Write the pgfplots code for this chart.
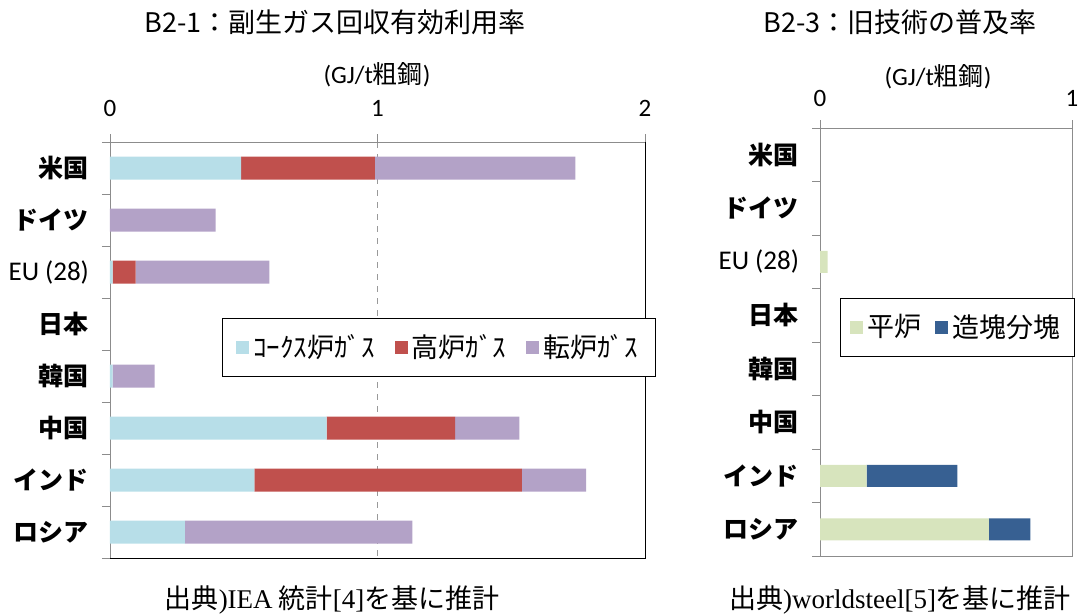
\documentclass[border=0pt]{standalone}
\usepackage{pgfplots}
\pgfplotsset{compat=1.18}
\usepackage{pgfplotstable}
\usepackage{fontspec}
\setmainfont{Noto Sans CJK JP}
\newfontfamily\lat{Carlito}
\newfontfamily\ser{Liberation Serif}

\definecolor{coke}{HTML}{B7DEE8}
\definecolor{bfgas}{HTML}{C0504D}
\definecolor{bofgas}{HTML}{B3A2C7}
\definecolor{ohf}{HTML}{D7E4BD}
\definecolor{ingot}{HTML}{376092}
\definecolor{frame}{HTML}{8C8C8C}

\newcommand{\fs}{\fontsize{12.5}{15}\selectfont}
\newcommand{\fl}{\fontsize{13.5}{16}\selectfont}

% GJ/t crude steel, rows top to bottom
\pgfplotstableread{
y coke bf bof
0 0.49 0.50 0.75
1 0    0    0.395
2 0.01 0.086 0.50
3 0    0    0
4 0.01 0    0.157
5 0.81 0.48 0.24
6 0.54 1.00 0.24
7 0.28 0    0.85
}\gasdata

\pgfplotstableread{
y ohf ingot
0 0    0
1 0    0
2 0.03 0
3 0    0
4 0    0
5 0    0
6 0.185 0.36
7 0.67 0.165
}\olddata

\pgfplotsset{
  catax/.style={
    scale only axis,
    xbar stacked,
    y dir=reverse,
    ymin=-0.5, ymax=7.5,
    ytick={-0.5,0.5,...,7.5},
    yticklabels={{},{},{},{},{},{},{},{},{}},
    extra y ticks={0,...,7},
    extra y tick labels={米国,ドイツ,{\mdseries\lat\fl EU (28)},日本,韓国,中国,インド,ロシア},
    extra y tick style={major tick length=0pt,
      yticklabel style={font=\fs\bfseries, xshift=-7pt}},
    ytick pos=left,
    xtick pos=right, xticklabel pos=right,
    tick align=outside, major tick length=4pt,
    tick style={draw=frame, thin},
    axis line style={draw=frame},
    xticklabel style={font=\lat\fs},
    /pgf/number format/assume math mode=true,
    legend cell align=left,
    legend image code/.code={\fill[#1] (0pt,-3.2pt) rectangle (6.5pt,3.3pt);},
  }
}

\begin{document}
\begin{tikzpicture}
\path[use as bounding box] (0,0) rectangle (540pt,307.5pt);

\begin{axis}[catax,
  at={(55pt,28.5pt)}, anchor=south west,
  width=267.5pt, height=208pt,
  bar width=11.5pt,
  xmin=0, xmax=2, xtick={0,1,2},
  xticklabel style={yshift=5pt},
  xmajorgrids, major grid style={dashed, draw=gray!80},
  legend style={at={(0.209,0.577)}, anchor=north west, draw=black, fill=white,
    legend columns=3, font=\fl, inner xsep=7pt, inner ysep=6pt,
    /tikz/every even column/.append style={column sep=8pt}},
  after end axis/.code={
    \draw[black] (rel axis cs:1,1) -- (rel axis cs:1,0) -- (rel axis cs:0,0);
  },
]
\addplot[fill=coke, draw=none] table[x=coke, y=y] {\gasdata};
\addlegendentry{ｺｰｸｽ炉ｶﾞｽ}
\addplot[fill=bfgas, draw=none] table[x=bf, y=y] {\gasdata};
\addlegendentry{高炉ｶﾞｽ}
\addplot[fill=bofgas, draw=none] table[x=bof, y=y] {\gasdata};
\addlegendentry{転炉ｶﾞｽ}
\end{axis}

\begin{axis}[catax,
  at={(410pt,29.5pt)}, anchor=south west,
  width=126pt, height=214pt,
  bar width=11pt,
  xmin=0, xmax=1, xtick={0,1},
  xticklabel style={yshift=3pt},
  legend style={at={(0.079,0.603)}, anchor=north west, draw=black, fill=white,
    legend columns=2, font=\fl, inner xsep=5pt, inner ysep=6pt,
    /tikz/every even column/.append style={column sep=5pt}},
]
\addplot[fill=ohf, draw=none] table[x=ohf, y=y] {\olddata};
\addlegendentry{平炉}
\addplot[fill=ingot, draw=none] table[x=ingot, y=y] {\olddata};
\addlegendentry{造塊分塊}
\end{axis}

\node[font=\fl] at (167.5pt,296.5pt) {B2-1：副生ガス回収有効利用率};
\node[font=\fl] at (450pt,296.5pt) {B2-3：旧技術の普及率};
\node[font=\fs] at (188.5pt,270pt) {{\lat (GJ/t}粗鋼{\lat )}};
\node[font=\fs] at (469pt,269pt) {{\lat (GJ/t}粗鋼{\lat )}};
\node[font=\fl] at (166pt,7.5pt) {出典{\ser )IEA} 統計{\ser [4]}を基に推計};
\node[font=\fl] at (450pt,7.5pt) {出典{\ser )worldsteel[5]}を基に推計};
\end{tikzpicture}
\end{document}
